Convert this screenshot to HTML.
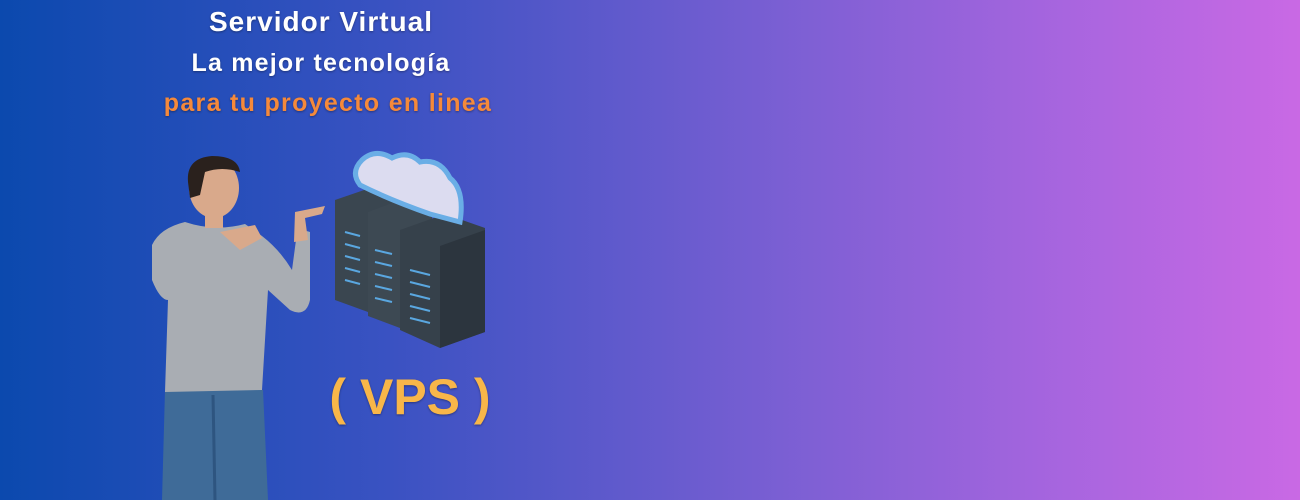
<!DOCTYPE html>
<html><head><meta charset="utf-8"><style>
html,body{margin:0;padding:0}
body{width:1300px;height:500px;overflow:hidden;position:relative;background:linear-gradient(90deg,#0b49ae 0%,#3a52c2 30%,#7a5fd3 60%,#a865df 82%,#c969e4 100%);font-family:"Liberation Sans",sans-serif}
.t{position:absolute;font-weight:bold;text-align:center;white-space:nowrap;text-shadow:0 1px 2px rgba(0,0,0,.35)}
</style></head><body>
<div class="t" style="left:121px;top:6px;width:400px;font-size:28px;letter-spacing:1px;color:#fff">Servidor Virtual</div>
<div class="t" style="left:121px;top:49px;width:400px;font-size:25px;letter-spacing:1.2px;color:#fff">La mejor tecnología</div>
<div class="t" style="left:128px;top:89px;width:400px;font-size:25px;letter-spacing:1.3px;color:#f5893a">para tu proyecto en linea</div>
<div class="t" style="left:310px;top:368px;width:200px;font-size:50px;color:#f8b649">( VPS )</div>
<svg width="1300" height="500" style="position:absolute;left:0;top:0">
 <path d="M165 390 L263 390 L268 500 L162 500 Z" fill="#3f6b98"/>
 <path d="M213 395 L215 500" stroke="#2e5580" stroke-width="3"/>
 <path d="M185 222 Q215 232 245 224 L262 236 Q280 250 292 270 L296 240 Q300 228 310 232 L310 300 Q306 318 290 310 L268 290 L262 390 L165 392 L168 300 Q160 300 152 280 L152 245 Q160 228 185 222 Z" fill="#a9adb3"/>
 <path d="M220 232 L255 225 L262 238 L240 250 Z" fill="#d9a98b"/>
 <path d="M295 212 L325 206 L322 214 L305 218 L308 240 L294 242 Z" fill="#d9a98b"/>
 <ellipse cx="214" cy="188" rx="25" ry="30" fill="#d9a98b"/>
 <path d="M188 182 Q186 158 212 156 Q238 156 240 172 Q222 166 205 172 L200 195 L190 198 Z" fill="#2a211d"/>
 <rect x="205" y="212" width="18" height="16" fill="#d9a98b"/>
 <g>
  <path d="M335 200 L370 188 L400 200 L400 300 L368 312 L335 300 Z" fill="#3a4650"/>
  <path d="M368 212 L400 200 L432 212 L432 316 L400 328 L368 316 Z" fill="#3d4953"/>
  <path d="M400 230 L445 214 L485 228 L485 332 L440 348 L400 330 Z" fill="#36414b"/>
  <path d="M440 246 L485 230 L485 332 L440 348 Z" fill="#2c353e"/>
  <g stroke="#5aa7e0" stroke-width="2">
   <path d="M345 232 L360 236 M345 244 L360 248 M345 256 L360 260 M345 268 L360 272 M345 280 L360 284"/>
   <path d="M375 250 L392 254 M375 262 L392 266 M375 274 L392 278 M375 286 L392 290 M375 298 L392 302"/>
   <path d="M410 270 L430 275 M410 282 L430 287 M410 294 L430 299 M410 306 L430 311 M410 318 L430 323"/>
  </g>
  <path d="M362 160 Q375 148 392 158 Q408 150 420 162 Q440 158 450 178 Q465 190 460 222 L430 214 Q390 200 360 185 Q350 172 362 160 Z" fill="#dcdcf0" stroke="#6aaee6" stroke-width="5"/>
 </g>
</svg>
</body></html>
